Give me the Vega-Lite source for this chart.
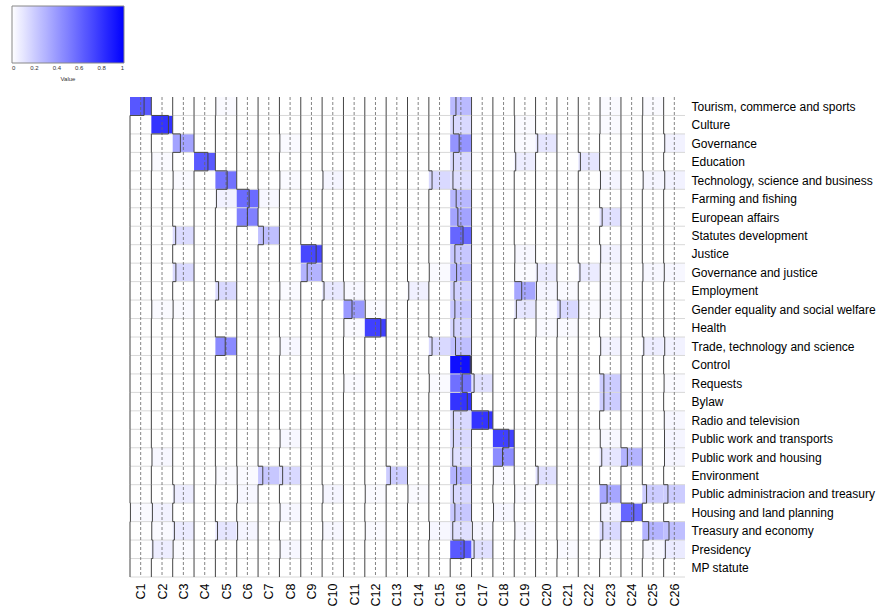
{
"$schema": "https://vega.github.io/schema/vega-lite/v6.json",
"width": 555,
"height": 480,
"autosize": {"type": "none"},
"padding": {"left": 130, "top": 97, "right": 196, "bottom": 29},
"config": {"font": "Liberation Sans", "view": {"stroke": null}, "axis": {"labelOverlap": false, "labelLimit": 300}},
"data": {"values": [
{"r":1,"c":1,"v":0.66},{"r":1,"c":2,"v":0},{"r":1,"c":3,"v":0},{"r":1,"c":4,"v":0},{"r":1,"c":5,"v":0.02},{"r":1,"c":6,"v":0},{"r":1,"c":7,"v":0},{"r":1,"c":8,"v":0},{"r":1,"c":9,"v":0},{"r":1,"c":10,"v":0},{"r":1,"c":11,"v":0},{"r":1,"c":12,"v":0},{"r":1,"c":13,"v":0},{"r":1,"c":14,"v":0},{"r":1,"c":15,"v":0},{"r":1,"c":16,"v":0.27},{"r":1,"c":17,"v":0},{"r":1,"c":18,"v":0},{"r":1,"c":19,"v":0},{"r":1,"c":20,"v":0},{"r":1,"c":21,"v":0},{"r":1,"c":22,"v":0},{"r":1,"c":23,"v":0.02},{"r":1,"c":24,"v":0},{"r":1,"c":25,"v":0.02},{"r":1,"c":26,"v":0},
{"r":2,"c":1,"v":0},{"r":2,"c":2,"v":0.8},{"r":2,"c":3,"v":0},{"r":2,"c":4,"v":0},{"r":2,"c":5,"v":0},{"r":2,"c":6,"v":0},{"r":2,"c":7,"v":0},{"r":2,"c":8,"v":0},{"r":2,"c":9,"v":0},{"r":2,"c":10,"v":0},{"r":2,"c":11,"v":0},{"r":2,"c":12,"v":0},{"r":2,"c":13,"v":0},{"r":2,"c":14,"v":0},{"r":2,"c":15,"v":0},{"r":2,"c":16,"v":0.15},{"r":2,"c":17,"v":0},{"r":2,"c":18,"v":0},{"r":2,"c":19,"v":0.02},{"r":2,"c":20,"v":0},{"r":2,"c":21,"v":0},{"r":2,"c":22,"v":0},{"r":2,"c":23,"v":0.02},{"r":2,"c":24,"v":0},{"r":2,"c":25,"v":0},{"r":2,"c":26,"v":0},
{"r":3,"c":1,"v":0},{"r":3,"c":2,"v":0},{"r":3,"c":3,"v":0.36},{"r":3,"c":4,"v":0},{"r":3,"c":5,"v":0},{"r":3,"c":6,"v":0},{"r":3,"c":7,"v":0},{"r":3,"c":8,"v":0.02},{"r":3,"c":9,"v":0},{"r":3,"c":10,"v":0},{"r":3,"c":11,"v":0},{"r":3,"c":12,"v":0},{"r":3,"c":13,"v":0},{"r":3,"c":14,"v":0},{"r":3,"c":15,"v":0},{"r":3,"c":16,"v":0.42},{"r":3,"c":17,"v":0},{"r":3,"c":18,"v":0},{"r":3,"c":19,"v":0.02},{"r":3,"c":20,"v":0.1},{"r":3,"c":21,"v":0},{"r":3,"c":22,"v":0},{"r":3,"c":23,"v":0},{"r":3,"c":24,"v":0},{"r":3,"c":25,"v":0},{"r":3,"c":26,"v":0.05},
{"r":4,"c":1,"v":0},{"r":4,"c":2,"v":0.02},{"r":4,"c":3,"v":0},{"r":4,"c":4,"v":0.65},{"r":4,"c":5,"v":0},{"r":4,"c":6,"v":0},{"r":4,"c":7,"v":0},{"r":4,"c":8,"v":0},{"r":4,"c":9,"v":0},{"r":4,"c":10,"v":0},{"r":4,"c":11,"v":0},{"r":4,"c":12,"v":0},{"r":4,"c":13,"v":0},{"r":4,"c":14,"v":0},{"r":4,"c":15,"v":0},{"r":4,"c":16,"v":0.15},{"r":4,"c":17,"v":0},{"r":4,"c":18,"v":0},{"r":4,"c":19,"v":0.07},{"r":4,"c":20,"v":0},{"r":4,"c":21,"v":0},{"r":4,"c":22,"v":0.1},{"r":4,"c":23,"v":0},{"r":4,"c":24,"v":0},{"r":4,"c":25,"v":0},{"r":4,"c":26,"v":0},
{"r":5,"c":1,"v":0},{"r":5,"c":2,"v":0},{"r":5,"c":3,"v":0.02},{"r":5,"c":4,"v":0},{"r":5,"c":5,"v":0.55},{"r":5,"c":6,"v":0},{"r":5,"c":7,"v":0},{"r":5,"c":8,"v":0.02},{"r":5,"c":9,"v":0},{"r":5,"c":10,"v":0.04},{"r":5,"c":11,"v":0},{"r":5,"c":12,"v":0},{"r":5,"c":13,"v":0},{"r":5,"c":14,"v":0},{"r":5,"c":15,"v":0.15},{"r":5,"c":16,"v":0.13},{"r":5,"c":17,"v":0},{"r":5,"c":18,"v":0},{"r":5,"c":19,"v":0},{"r":5,"c":20,"v":0},{"r":5,"c":21,"v":0},{"r":5,"c":22,"v":0},{"r":5,"c":23,"v":0.04},{"r":5,"c":24,"v":0},{"r":5,"c":25,"v":0.04},{"r":5,"c":26,"v":0.05},
{"r":6,"c":1,"v":0},{"r":6,"c":2,"v":0},{"r":6,"c":3,"v":0},{"r":6,"c":4,"v":0},{"r":6,"c":5,"v":0.05},{"r":6,"c":6,"v":0.58},{"r":6,"c":7,"v":0.03},{"r":6,"c":8,"v":0},{"r":6,"c":9,"v":0},{"r":6,"c":10,"v":0},{"r":6,"c":11,"v":0},{"r":6,"c":12,"v":0},{"r":6,"c":13,"v":0},{"r":6,"c":14,"v":0},{"r":6,"c":15,"v":0},{"r":6,"c":16,"v":0.28},{"r":6,"c":17,"v":0},{"r":6,"c":18,"v":0},{"r":6,"c":19,"v":0},{"r":6,"c":20,"v":0},{"r":6,"c":21,"v":0},{"r":6,"c":22,"v":0},{"r":6,"c":23,"v":0},{"r":6,"c":24,"v":0},{"r":6,"c":25,"v":0},{"r":6,"c":26,"v":0},
{"r":7,"c":1,"v":0},{"r":7,"c":2,"v":0},{"r":7,"c":3,"v":0},{"r":7,"c":4,"v":0},{"r":7,"c":5,"v":0},{"r":7,"c":6,"v":0.5},{"r":7,"c":7,"v":0},{"r":7,"c":8,"v":0},{"r":7,"c":9,"v":0},{"r":7,"c":10,"v":0},{"r":7,"c":11,"v":0},{"r":7,"c":12,"v":0},{"r":7,"c":13,"v":0},{"r":7,"c":14,"v":0},{"r":7,"c":15,"v":0},{"r":7,"c":16,"v":0.36},{"r":7,"c":17,"v":0},{"r":7,"c":18,"v":0},{"r":7,"c":19,"v":0},{"r":7,"c":20,"v":0},{"r":7,"c":21,"v":0},{"r":7,"c":22,"v":0},{"r":7,"c":23,"v":0.12},{"r":7,"c":24,"v":0},{"r":7,"c":25,"v":0},{"r":7,"c":26,"v":0},
{"r":8,"c":1,"v":0},{"r":8,"c":2,"v":0},{"r":8,"c":3,"v":0.14},{"r":8,"c":4,"v":0},{"r":8,"c":5,"v":0},{"r":8,"c":6,"v":0},{"r":8,"c":7,"v":0.25},{"r":8,"c":8,"v":0},{"r":8,"c":9,"v":0},{"r":8,"c":10,"v":0},{"r":8,"c":11,"v":0},{"r":8,"c":12,"v":0},{"r":8,"c":13,"v":0},{"r":8,"c":14,"v":0},{"r":8,"c":15,"v":0},{"r":8,"c":16,"v":0.6},{"r":8,"c":17,"v":0},{"r":8,"c":18,"v":0},{"r":8,"c":19,"v":0},{"r":8,"c":20,"v":0},{"r":8,"c":21,"v":0},{"r":8,"c":22,"v":0},{"r":8,"c":23,"v":0},{"r":8,"c":24,"v":0},{"r":8,"c":25,"v":0},{"r":8,"c":26,"v":0},
{"r":9,"c":1,"v":0},{"r":9,"c":2,"v":0},{"r":9,"c":3,"v":0},{"r":9,"c":4,"v":0},{"r":9,"c":5,"v":0},{"r":9,"c":6,"v":0},{"r":9,"c":7,"v":0},{"r":9,"c":8,"v":0},{"r":9,"c":9,"v":0.72},{"r":9,"c":10,"v":0},{"r":9,"c":11,"v":0},{"r":9,"c":12,"v":0},{"r":9,"c":13,"v":0},{"r":9,"c":14,"v":0},{"r":9,"c":15,"v":0},{"r":9,"c":16,"v":0.22},{"r":9,"c":17,"v":0},{"r":9,"c":18,"v":0},{"r":9,"c":19,"v":0.03},{"r":9,"c":20,"v":0},{"r":9,"c":21,"v":0},{"r":9,"c":22,"v":0},{"r":9,"c":23,"v":0.05},{"r":9,"c":24,"v":0},{"r":9,"c":25,"v":0},{"r":9,"c":26,"v":0},
{"r":10,"c":1,"v":0},{"r":10,"c":2,"v":0},{"r":10,"c":3,"v":0.15},{"r":10,"c":4,"v":0},{"r":10,"c":5,"v":0},{"r":10,"c":6,"v":0},{"r":10,"c":7,"v":0},{"r":10,"c":8,"v":0},{"r":10,"c":9,"v":0.3},{"r":10,"c":10,"v":0},{"r":10,"c":11,"v":0},{"r":10,"c":12,"v":0},{"r":10,"c":13,"v":0},{"r":10,"c":14,"v":0},{"r":10,"c":15,"v":0.02},{"r":10,"c":16,"v":0.3},{"r":10,"c":17,"v":0},{"r":10,"c":18,"v":0},{"r":10,"c":19,"v":0.02},{"r":10,"c":20,"v":0.08},{"r":10,"c":21,"v":0},{"r":10,"c":22,"v":0.08},{"r":10,"c":23,"v":0.03},{"r":10,"c":24,"v":0},{"r":10,"c":25,"v":0.03},{"r":10,"c":26,"v":0.03},
{"r":11,"c":1,"v":0},{"r":11,"c":2,"v":0},{"r":11,"c":3,"v":0},{"r":11,"c":4,"v":0},{"r":11,"c":5,"v":0.15},{"r":11,"c":6,"v":0},{"r":11,"c":7,"v":0},{"r":11,"c":8,"v":0.02},{"r":11,"c":9,"v":0},{"r":11,"c":10,"v":0.09},{"r":11,"c":11,"v":0.03},{"r":11,"c":12,"v":0},{"r":11,"c":13,"v":0},{"r":11,"c":14,"v":0.06},{"r":11,"c":15,"v":0},{"r":11,"c":16,"v":0.18},{"r":11,"c":17,"v":0},{"r":11,"c":18,"v":0},{"r":11,"c":19,"v":0.35},{"r":11,"c":20,"v":0.04},{"r":11,"c":21,"v":0.02},{"r":11,"c":22,"v":0},{"r":11,"c":23,"v":0.03},{"r":11,"c":24,"v":0},{"r":11,"c":25,"v":0},{"r":11,"c":26,"v":0},
{"r":12,"c":1,"v":0},{"r":12,"c":2,"v":0.02},{"r":12,"c":3,"v":0.02},{"r":12,"c":4,"v":0},{"r":12,"c":5,"v":0},{"r":12,"c":6,"v":0},{"r":12,"c":7,"v":0},{"r":12,"c":8,"v":0},{"r":12,"c":9,"v":0},{"r":12,"c":10,"v":0},{"r":12,"c":11,"v":0.4},{"r":12,"c":12,"v":0.02},{"r":12,"c":13,"v":0},{"r":12,"c":14,"v":0},{"r":12,"c":15,"v":0},{"r":12,"c":16,"v":0.22},{"r":12,"c":17,"v":0},{"r":12,"c":18,"v":0},{"r":12,"c":19,"v":0.1},{"r":12,"c":20,"v":0.02},{"r":12,"c":21,"v":0.15},{"r":12,"c":22,"v":0.02},{"r":12,"c":23,"v":0.03},{"r":12,"c":24,"v":0},{"r":12,"c":25,"v":0},{"r":12,"c":26,"v":0},
{"r":13,"c":1,"v":0},{"r":13,"c":2,"v":0},{"r":13,"c":3,"v":0},{"r":13,"c":4,"v":0},{"r":13,"c":5,"v":0},{"r":13,"c":6,"v":0},{"r":13,"c":7,"v":0},{"r":13,"c":8,"v":0},{"r":13,"c":9,"v":0},{"r":13,"c":10,"v":0},{"r":13,"c":11,"v":0.02},{"r":13,"c":12,"v":0.75},{"r":13,"c":13,"v":0},{"r":13,"c":14,"v":0},{"r":13,"c":15,"v":0},{"r":13,"c":16,"v":0.17},{"r":13,"c":17,"v":0},{"r":13,"c":18,"v":0},{"r":13,"c":19,"v":0},{"r":13,"c":20,"v":0.02},{"r":13,"c":21,"v":0.02},{"r":13,"c":22,"v":0},{"r":13,"c":23,"v":0},{"r":13,"c":24,"v":0},{"r":13,"c":25,"v":0},{"r":13,"c":26,"v":0},
{"r":14,"c":1,"v":0},{"r":14,"c":2,"v":0},{"r":14,"c":3,"v":0},{"r":14,"c":4,"v":0},{"r":14,"c":5,"v":0.46},{"r":14,"c":6,"v":0},{"r":14,"c":7,"v":0},{"r":14,"c":8,"v":0.03},{"r":14,"c":9,"v":0},{"r":14,"c":10,"v":0},{"r":14,"c":11,"v":0},{"r":14,"c":12,"v":0},{"r":14,"c":13,"v":0},{"r":14,"c":14,"v":0},{"r":14,"c":15,"v":0.15},{"r":14,"c":16,"v":0.25},{"r":14,"c":17,"v":0},{"r":14,"c":18,"v":0},{"r":14,"c":19,"v":0},{"r":14,"c":20,"v":0},{"r":14,"c":21,"v":0},{"r":14,"c":22,"v":0},{"r":14,"c":23,"v":0.05},{"r":14,"c":24,"v":0},{"r":14,"c":25,"v":0.07},{"r":14,"c":26,"v":0.05},
{"r":15,"c":1,"v":0},{"r":15,"c":2,"v":0},{"r":15,"c":3,"v":0},{"r":15,"c":4,"v":0},{"r":15,"c":5,"v":0},{"r":15,"c":6,"v":0},{"r":15,"c":7,"v":0},{"r":15,"c":8,"v":0},{"r":15,"c":9,"v":0},{"r":15,"c":10,"v":0},{"r":15,"c":11,"v":0},{"r":15,"c":12,"v":0},{"r":15,"c":13,"v":0},{"r":15,"c":14,"v":0},{"r":15,"c":15,"v":0},{"r":15,"c":16,"v":0.94},{"r":15,"c":17,"v":0},{"r":15,"c":18,"v":0},{"r":15,"c":19,"v":0},{"r":15,"c":20,"v":0},{"r":15,"c":21,"v":0},{"r":15,"c":22,"v":0},{"r":15,"c":23,"v":0},{"r":15,"c":24,"v":0},{"r":15,"c":25,"v":0},{"r":15,"c":26,"v":0},
{"r":16,"c":1,"v":0},{"r":16,"c":2,"v":0},{"r":16,"c":3,"v":0},{"r":16,"c":4,"v":0},{"r":16,"c":5,"v":0},{"r":16,"c":6,"v":0},{"r":16,"c":7,"v":0},{"r":16,"c":8,"v":0},{"r":16,"c":9,"v":0},{"r":16,"c":10,"v":0},{"r":16,"c":11,"v":0.02},{"r":16,"c":12,"v":0},{"r":16,"c":13,"v":0},{"r":16,"c":14,"v":0},{"r":16,"c":15,"v":0.02},{"r":16,"c":16,"v":0.56},{"r":16,"c":17,"v":0.12},{"r":16,"c":18,"v":0},{"r":16,"c":19,"v":0},{"r":16,"c":20,"v":0},{"r":16,"c":21,"v":0},{"r":16,"c":22,"v":0},{"r":16,"c":23,"v":0.2},{"r":16,"c":24,"v":0},{"r":16,"c":25,"v":0},{"r":16,"c":26,"v":0.02},
{"r":17,"c":1,"v":0},{"r":17,"c":2,"v":0},{"r":17,"c":3,"v":0},{"r":17,"c":4,"v":0},{"r":17,"c":5,"v":0},{"r":17,"c":6,"v":0},{"r":17,"c":7,"v":0},{"r":17,"c":8,"v":0},{"r":17,"c":9,"v":0},{"r":17,"c":10,"v":0},{"r":17,"c":11,"v":0},{"r":17,"c":12,"v":0},{"r":17,"c":13,"v":0},{"r":17,"c":14,"v":0},{"r":17,"c":15,"v":0},{"r":17,"c":16,"v":0.8},{"r":17,"c":17,"v":0},{"r":17,"c":18,"v":0},{"r":17,"c":19,"v":0},{"r":17,"c":20,"v":0},{"r":17,"c":21,"v":0},{"r":17,"c":22,"v":0},{"r":17,"c":23,"v":0.2},{"r":17,"c":24,"v":0},{"r":17,"c":25,"v":0},{"r":17,"c":26,"v":0},
{"r":18,"c":1,"v":0},{"r":18,"c":2,"v":0},{"r":18,"c":3,"v":0},{"r":18,"c":4,"v":0},{"r":18,"c":5,"v":0},{"r":18,"c":6,"v":0},{"r":18,"c":7,"v":0},{"r":18,"c":8,"v":0},{"r":18,"c":9,"v":0},{"r":18,"c":10,"v":0},{"r":18,"c":11,"v":0},{"r":18,"c":12,"v":0},{"r":18,"c":13,"v":0},{"r":18,"c":14,"v":0},{"r":18,"c":15,"v":0},{"r":18,"c":16,"v":0.15},{"r":18,"c":17,"v":0.8},{"r":18,"c":18,"v":0},{"r":18,"c":19,"v":0},{"r":18,"c":20,"v":0},{"r":18,"c":21,"v":0},{"r":18,"c":22,"v":0},{"r":18,"c":23,"v":0},{"r":18,"c":24,"v":0},{"r":18,"c":25,"v":0},{"r":18,"c":26,"v":0.03},
{"r":19,"c":1,"v":0},{"r":19,"c":2,"v":0},{"r":19,"c":3,"v":0},{"r":19,"c":4,"v":0},{"r":19,"c":5,"v":0},{"r":19,"c":6,"v":0},{"r":19,"c":7,"v":0},{"r":19,"c":8,"v":0.03},{"r":19,"c":9,"v":0},{"r":19,"c":10,"v":0},{"r":19,"c":11,"v":0},{"r":19,"c":12,"v":0},{"r":19,"c":13,"v":0},{"r":19,"c":14,"v":0},{"r":19,"c":15,"v":0},{"r":19,"c":16,"v":0.15},{"r":19,"c":17,"v":0},{"r":19,"c":18,"v":0.75},{"r":19,"c":19,"v":0},{"r":19,"c":20,"v":0},{"r":19,"c":21,"v":0},{"r":19,"c":22,"v":0},{"r":19,"c":23,"v":0.03},{"r":19,"c":24,"v":0},{"r":19,"c":25,"v":0},{"r":19,"c":26,"v":0.04},
{"r":20,"c":1,"v":0},{"r":20,"c":2,"v":0.03},{"r":20,"c":3,"v":0},{"r":20,"c":4,"v":0},{"r":20,"c":5,"v":0},{"r":20,"c":6,"v":0},{"r":20,"c":7,"v":0},{"r":20,"c":8,"v":0},{"r":20,"c":9,"v":0},{"r":20,"c":10,"v":0},{"r":20,"c":11,"v":0},{"r":20,"c":12,"v":0},{"r":20,"c":13,"v":0},{"r":20,"c":14,"v":0},{"r":20,"c":15,"v":0},{"r":20,"c":16,"v":0.12},{"r":20,"c":17,"v":0},{"r":20,"c":18,"v":0.45},{"r":20,"c":19,"v":0},{"r":20,"c":20,"v":0},{"r":20,"c":21,"v":0},{"r":20,"c":22,"v":0},{"r":20,"c":23,"v":0.1},{"r":20,"c":24,"v":0.3},{"r":20,"c":25,"v":0},{"r":20,"c":26,"v":0.04},
{"r":21,"c":1,"v":0},{"r":21,"c":2,"v":0},{"r":21,"c":3,"v":0},{"r":21,"c":4,"v":0},{"r":21,"c":5,"v":0.02},{"r":21,"c":6,"v":0.02},{"r":21,"c":7,"v":0.22},{"r":21,"c":8,"v":0.15},{"r":21,"c":9,"v":0},{"r":21,"c":10,"v":0},{"r":21,"c":11,"v":0},{"r":21,"c":12,"v":0},{"r":21,"c":13,"v":0.2},{"r":21,"c":14,"v":0},{"r":21,"c":15,"v":0},{"r":21,"c":16,"v":0.3},{"r":21,"c":17,"v":0},{"r":21,"c":18,"v":0.02},{"r":21,"c":19,"v":0},{"r":21,"c":20,"v":0.12},{"r":21,"c":21,"v":0},{"r":21,"c":22,"v":0},{"r":21,"c":23,"v":0},{"r":21,"c":24,"v":0},{"r":21,"c":25,"v":0},{"r":21,"c":26,"v":0},
{"r":22,"c":1,"v":0},{"r":22,"c":2,"v":0},{"r":22,"c":3,"v":0.07},{"r":22,"c":4,"v":0},{"r":22,"c":5,"v":0},{"r":22,"c":6,"v":0.03},{"r":22,"c":7,"v":0},{"r":22,"c":8,"v":0},{"r":22,"c":9,"v":0},{"r":22,"c":10,"v":0.04},{"r":22,"c":11,"v":0},{"r":22,"c":12,"v":0.02},{"r":22,"c":13,"v":0},{"r":22,"c":14,"v":0.02},{"r":22,"c":15,"v":0},{"r":22,"c":16,"v":0.15},{"r":22,"c":17,"v":0},{"r":22,"c":18,"v":0},{"r":22,"c":19,"v":0.02},{"r":22,"c":20,"v":0},{"r":22,"c":21,"v":0},{"r":22,"c":22,"v":0},{"r":22,"c":23,"v":0.35},{"r":22,"c":24,"v":0},{"r":22,"c":25,"v":0.2},{"r":22,"c":26,"v":0.2},
{"r":23,"c":1,"v":0.02},{"r":23,"c":2,"v":0.05},{"r":23,"c":3,"v":0},{"r":23,"c":4,"v":0},{"r":23,"c":5,"v":0},{"r":23,"c":6,"v":0},{"r":23,"c":7,"v":0},{"r":23,"c":8,"v":0.03},{"r":23,"c":9,"v":0},{"r":23,"c":10,"v":0},{"r":23,"c":11,"v":0},{"r":23,"c":12,"v":0},{"r":23,"c":13,"v":0},{"r":23,"c":14,"v":0},{"r":23,"c":15,"v":0},{"r":23,"c":16,"v":0.22},{"r":23,"c":17,"v":0},{"r":23,"c":18,"v":0.03},{"r":23,"c":19,"v":0},{"r":23,"c":20,"v":0},{"r":23,"c":21,"v":0},{"r":23,"c":22,"v":0},{"r":23,"c":23,"v":0.05},{"r":23,"c":24,"v":0.6},{"r":23,"c":25,"v":0},{"r":23,"c":26,"v":0},
{"r":24,"c":1,"v":0},{"r":24,"c":2,"v":0.02},{"r":24,"c":3,"v":0.08},{"r":24,"c":4,"v":0},{"r":24,"c":5,"v":0.1},{"r":24,"c":6,"v":0.04},{"r":24,"c":7,"v":0},{"r":24,"c":8,"v":0},{"r":24,"c":9,"v":0},{"r":24,"c":10,"v":0.03},{"r":24,"c":11,"v":0},{"r":24,"c":12,"v":0.02},{"r":24,"c":13,"v":0},{"r":24,"c":14,"v":0},{"r":24,"c":15,"v":0.03},{"r":24,"c":16,"v":0.12},{"r":24,"c":17,"v":0.04},{"r":24,"c":18,"v":0},{"r":24,"c":19,"v":0.03},{"r":24,"c":20,"v":0},{"r":24,"c":21,"v":0},{"r":24,"c":22,"v":0},{"r":24,"c":23,"v":0.15},{"r":24,"c":24,"v":0},{"r":24,"c":25,"v":0.3},{"r":24,"c":26,"v":0.25},
{"r":25,"c":1,"v":0},{"r":25,"c":2,"v":0.07},{"r":25,"c":3,"v":0.02},{"r":25,"c":4,"v":0},{"r":25,"c":5,"v":0},{"r":25,"c":6,"v":0},{"r":25,"c":7,"v":0},{"r":25,"c":8,"v":0.03},{"r":25,"c":9,"v":0},{"r":25,"c":10,"v":0},{"r":25,"c":11,"v":0},{"r":25,"c":12,"v":0},{"r":25,"c":13,"v":0},{"r":25,"c":14,"v":0},{"r":25,"c":15,"v":0},{"r":25,"c":16,"v":0.65},{"r":25,"c":17,"v":0.12},{"r":25,"c":18,"v":0},{"r":25,"c":19,"v":0},{"r":25,"c":20,"v":0},{"r":25,"c":21,"v":0.02},{"r":25,"c":22,"v":0},{"r":25,"c":23,"v":0.03},{"r":25,"c":24,"v":0},{"r":25,"c":25,"v":0.03},{"r":25,"c":26,"v":0.08},
{"r":26,"c":1,"v":0},{"r":26,"c":2,"v":0},{"r":26,"c":3,"v":0},{"r":26,"c":4,"v":0},{"r":26,"c":5,"v":0},{"r":26,"c":6,"v":0},{"r":26,"c":7,"v":0},{"r":26,"c":8,"v":0},{"r":26,"c":9,"v":0},{"r":26,"c":10,"v":0},{"r":26,"c":11,"v":0},{"r":26,"c":12,"v":0},{"r":26,"c":13,"v":0},{"r":26,"c":14,"v":0},{"r":26,"c":15,"v":0},{"r":26,"c":16,"v":0},{"r":26,"c":17,"v":0},{"r":26,"c":18,"v":0},{"r":26,"c":19,"v":0},{"r":26,"c":20,"v":0},{"r":26,"c":21,"v":0},{"r":26,"c":22,"v":0},{"r":26,"c":23,"v":0},{"r":26,"c":24,"v":0},{"r":26,"c":25,"v":0},{"r":26,"c":26,"v":0}
]},
"transform": [
{"calculate": "datum.c - 0.5", "as": "x0"},
{"calculate": "datum.c + 0.5", "as": "x1"},
{"calculate": "datum.r - 0.5", "as": "y0"},
{"calculate": "datum.r + 0.5", "as": "y1"},
{"calculate": "datum.c - 0.5 + datum.v", "as": "tx"},
{"window": [{"op": "lag", "field": "tx", "as": "ptx"}], "groupby": ["c"], "sort": [{"field": "r", "order": "ascending"}]}
],
"layer": [
{
"mark": {"type": "rect", "strokeWidth": 0},
"encoding": {
"x": {"field": "x0", "type": "quantitative", "scale": {"domain": [0.5, 26.5], "nice": false, "zero": false},
"axis": {"orient": "bottom", "title": null, "values": [1,2,3,4,5,6,7,8,9,10,11,12,13,14,15,16,17,18,19,20,21,22,23,24,25,26], "tickCount": 40, "labelExpr": "'C' + datum.value", "labelAngle": 270, "ticks": false, "domain": false, "grid": false, "labelFontSize": 12.5, "labelColor": "#000", "labelPadding": 6, "labelFont": "Liberation Sans", "labelOverlap": false, "labelBound": false}},
"x2": {"field": "x1"},
"y": {"field": "y0", "type": "quantitative", "scale": {"domain": [0.5, 26.5], "reverse": true, "nice": false, "zero": false},
"axis": {"orient": "right", "title": null, "values": [1,2,3,4,5,6,7,8,9,10,11,12,13,14,15,16,17,18,19,20,21,22,23,24,25,26], "tickCount": 40, "labelExpr": "['Tourism, commerce and sports','Culture','Governance','Education','Technology, science and business','Farming and fishing','European affairs','Statutes development','Justice','Governance and justice','Employment','Gender equality and social welfare','Health','Trade, technology and science','Control','Requests','Bylaw','Radio and television','Public work and transports','Public work and housing','Environment','Public administracion and treasury','Housing and land planning','Treasury and economy','Presidency','MP statute'][datum.value - 1]", "ticks": false, "domain": false, "grid": false, "labelFontSize": 12, "labelColor": "#000", "labelPadding": 6, "labelFont": "Liberation Sans", "labelOverlap": false, "labelBound": false, "labelLimit": 300}},
"y2": {"field": "y1"},
"color": {"field": "v", "type": "quantitative", "scale": {"domain": [0, 1], "range": ["#ffffff", "#0000ff"], "interpolate": "rgb"},
"legend": {"orient": "none", "legendX": -118, "legendY": -91, "direction": "horizontal", "gradientLength": 112, "gradientThickness": 57, "title": "Value", "titleOrient": "bottom", "titleAnchor": "middle", "titleFontSize": 6, "titleFontWeight": "normal", "titleColor": "#333", "labelFontSize": 6, "labelColor": "#333", "values": [0, 0.2, 0.4, 0.6, 0.8, 1], "format": "~g", "padding": 0, "gradientStrokeColor": "#888", "gradientStrokeWidth": 1}}
}
},
{
"transform": [{"filter": "datum.c == 1"}],
"mark": {"type": "rule", "color": "#d8d8d8", "strokeWidth": 1},
"encoding": {
"y": {"field": "y1", "type": "quantitative"},
"x": {"datum": 0.5},
"x2": {"datum": 26.5}
}
},
{
"transform": [{"filter": "datum.r == 1"}],
"mark": {"type": "rule", "color": "#666666", "strokeWidth": 0.8, "strokeDash": [3, 2]},
"encoding": {
"x": {"field": "c", "type": "quantitative"},
"y": {"datum": 0.5},
"y2": {"datum": 26.5}
}
},
{
"mark": {"type": "rule", "color": "#444444", "strokeWidth": 1},
"encoding": {
"x": {"field": "tx", "type": "quantitative"},
"y": {"field": "y0", "type": "quantitative"},
"y2": {"field": "y1"}
}
},
{
"transform": [{"filter": "datum.r > 1"}],
"mark": {"type": "rule", "color": "#444444", "strokeWidth": 1},
"encoding": {
"x": {"field": "ptx", "type": "quantitative"},
"x2": {"field": "tx"},
"y": {"field": "y0", "type": "quantitative"}
}
}
]
}
